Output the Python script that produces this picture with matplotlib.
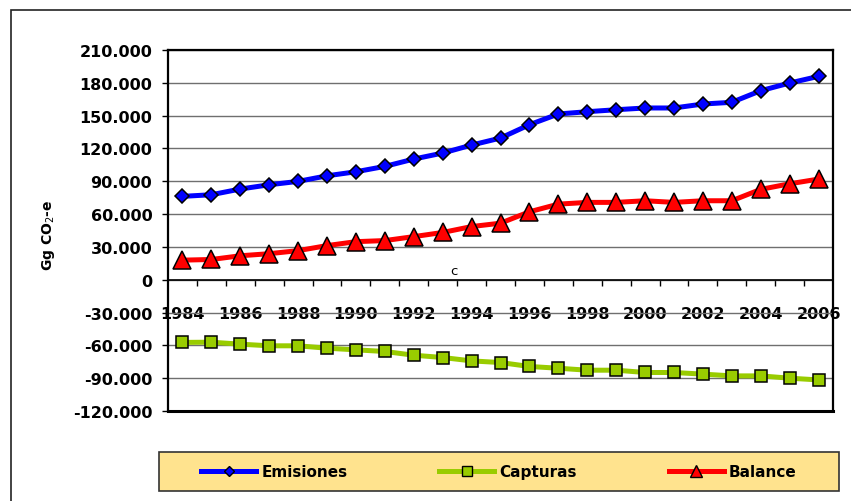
import matplotlib
matplotlib.use("Agg")
import matplotlib.pyplot as plt
from matplotlib.lines import Line2D
from matplotlib.patches import Rectangle
from matplotlib.ticker import FixedLocator, FixedFormatter

YEARS = list(range(1984, 2007))
EMISIONES = [76200, 77700, 82900, 86800, 89900, 95000, 98700, 103600, 110300,
             115800, 123100, 129500, 141700, 151500, 153600, 155400, 157000,
             157000, 160600, 162200, 172800, 179800, 185900]
CAPTURAS = [-57300, -57100, -58900, -60400, -60400, -62600, -64100, -65600,
            -69000, -71100, -74200, -75700, -79300, -80900, -82700, -82700,
            -84800, -84800, -86300, -87900, -87900, -90000, -91600]
BALANCE = [17900, 18500, 21900, 23800, 26600, 31200, 34800, 35800, 39400,
           43200, 48600, 51700, 62100, 69100, 70700, 70700, 72200, 70700,
           72200, 72200, 82600, 87700, 92000]
Y_TICKS = [-120000, -90000, -60000, -30000, 0, 30000, 60000, 90000, 120000,
           150000, 180000, 210000]
Y_LABELS = ["-120.000", "-90.000", "-60.000", "-30.000", "0", "30.000",
            "60.000", "90.000", "120.000", "150.000", "180.000", "210.000"]

W, H = 851, 502
BLUE = "#0000FF"
GREEN = "#99CC00"
RED = "#FF0000"

plt.rcParams["font.family"] = "DejaVu Sans"

fig = plt.figure(figsize=(W / 100, H / 100), dpi=100)
ax = fig.add_axes([168 / W, 1 - 412 / H, (833 - 168) / W, (412 - 51) / H])

x = list(range(len(YEARS)))
ax.plot(x, EMISIONES, color=BLUE, lw=3.6, marker="D", ms=7.2,
        markerfacecolor=BLUE, markeredgecolor="black", markeredgewidth=1.1,
        zorder=5, clip_on=False)
ax.plot(x, CAPTURAS, color=GREEN, lw=3.6, marker="s", ms=9.0,
        markerfacecolor=GREEN, markeredgecolor="black", markeredgewidth=1.1,
        zorder=5, clip_on=False)
ax.plot(x, BALANCE, color=RED, lw=3.6, marker="^", ms=13.5,
        markerfacecolor=RED, markeredgecolor="black", markeredgewidth=1.1,
        zorder=5, clip_on=False)

ax.set_xlim(-0.5, len(YEARS) - 0.5)
ax.set_ylim(Y_TICKS[0], Y_TICKS[-1])

# y axis
ax.yaxis.set_major_locator(FixedLocator(Y_TICKS))
ax.yaxis.set_major_formatter(FixedFormatter(Y_LABELS))
ax.tick_params(axis="y", direction="out", length=4.3, width=1.0, pad=7,
               labelsize=11.5)
for t in ax.get_yticklabels():
    t.set_fontweight("bold")
ax.yaxis.grid(True, color="#6f6f6f", lw=1.0)
ax.set_axisbelow(True)

# category axis sits at zero
ax.spines["bottom"].set_position(("data", 0))
ax.spines["bottom"].set_linewidth(1.2)
for side in ["left", "right", "top"]:
    ax.spines[side].set_linewidth(1.6)
ax.axhline(Y_TICKS[0], color="black", lw=2.2, clip_on=False, zorder=6)

ax.set_xticks(x[::2])
ax.set_xticklabels([str(y) for y in YEARS[::2]], fontsize=11.5,
                   fontweight="bold")
ax.set_xticks([i + 0.5 for i in x[:-1]], minor=True)
ax.tick_params(axis="x", which="major", length=0, pad=19)
ax.tick_params(axis="x", which="minor", direction="out", length=4.3,
               width=1.0)

fig.text(48.5 / W, 1 - 235 / H, "Gg CO$_2$-e", rotation=90, ha="center",
         va="center", fontsize=10, fontweight="bold")
fig.text(454 / W, 1 - 272 / H, "c", ha="center", va="center", fontsize=9.5)

# outer frame
fig.patches.append(Rectangle((10.5 / W, -0.1), 2, 1 - 11 / H + 0.1,
                             transform=fig.transFigure, fill=False,
                             edgecolor="#222222", lw=1.2))

# legend box
fig.patches.append(Rectangle((159 / W, 1 - 492 / H), (839 - 159) / W,
                             (492 - 453) / H, transform=fig.transFigure,
                             facecolor="#FFE38E", edgecolor="#333333",
                             lw=1.2, zorder=1))
handles = [
    Line2D([0], [0], color=BLUE, lw=3.6, marker="D", ms=5.6,
           markerfacecolor=BLUE, markeredgecolor="black", label="Emisiones"),
    Line2D([0], [0], color=GREEN, lw=3.6, marker="s", ms=7.2,
           markerfacecolor=GREEN, markeredgecolor="black", label="Capturas"),
    Line2D([0], [0], color=RED, lw=3.6, marker="^", ms=8.6,
           markerfacecolor=RED, markeredgecolor="black", label="Balance"),
]
leg = fig.legend(handles=handles, loc="center",
                 bbox_to_anchor=(499 / W, 1 - 472.5 / H), ncol=3,
                 frameon=False, prop={"size": 11, "weight": "bold"},
                 handlelength=3.6, handletextpad=0.35, columnspacing=6.0)
leg.set_zorder(3)

fig.savefig("out.png", dpi=100)
